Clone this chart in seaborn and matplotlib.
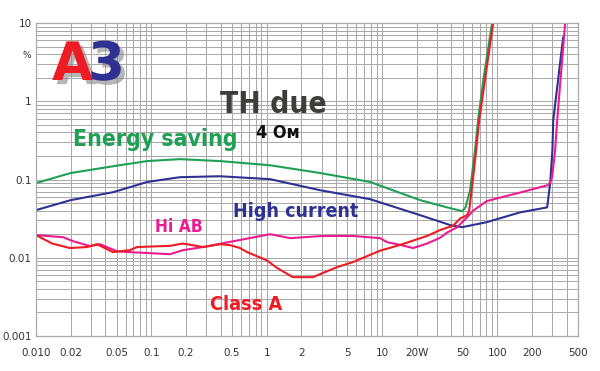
import numpy as np
import pandas as pd
import matplotlib
matplotlib.use("Agg")
import matplotlib.pyplot as plt
import matplotlib.ticker as mticker
import matplotlib.patheffects as pe
import seaborn as sns

# ---- data ----
energy_x = [0.01, 0.02, 0.047, 0.092, 0.177, 0.394, 1.07, 2.9, 7.9, 13, 21.4, 36.7, 49.5, 53, 58, 62, 64, 68, 76, 90]
energy_y = [0.090, 0.121, 0.148, 0.172, 0.182, 0.172, 0.152, 0.121, 0.093, 0.071, 0.0545, 0.044, 0.0394, 0.044, 0.073, 0.163, 0.238, 0.57, 2.0, 10]

high_x = [0.01, 0.02, 0.047, 0.092, 0.177, 0.394, 1.07, 2.9, 7.9, 21.4, 39.5, 49.5, 81, 157, 270, 287, 300, 305, 372]
high_y = [0.0406, 0.0545, 0.069, 0.093, 0.107, 0.110, 0.101, 0.073, 0.056, 0.035, 0.026, 0.0246, 0.0285, 0.038, 0.044, 0.09, 0.24, 0.57, 6.6]

hiab_x = [0.01, 0.0172, 0.0209, 0.0294, 0.0359, 0.0504, 0.0653, 0.145, 0.188, 0.281, 0.454, 1.07, 1.6, 2.9, 4.08, 5.6, 9.6, 11.1, 14.4, 18.6,
          24.6, 31.9, 36.7, 44.8, 54.7, 61.7, 81, 122, 157, 276, 290, 299, 317, 330, 387]
hiab_y = [0.0195, 0.0183, 0.0163, 0.0141, 0.0149, 0.0121, 0.0118, 0.0111, 0.0125, 0.0137, 0.0157, 0.020, 0.0178, 0.0189, 0.019, 0.019, 0.0178, 0.0158, 0.0146, 0.0133,
          0.0152, 0.018, 0.021, 0.0245, 0.033, 0.040, 0.053, 0.062, 0.068, 0.085, 0.095, 0.11, 0.24, 0.57, 10]

classa_x = [0.01, 0.0138, 0.0197, 0.0277, 0.0338, 0.0465, 0.0653, 0.0751, 0.145, 0.188, 0.281, 0.394, 0.482, 0.588, 0.676, 1.0, 1.23, 1.69, 2.52,
            4.08, 5.6, 9.6, 14.4, 24.6, 31.9, 41.4, 47.6, 54.7, 57, 61.7, 65.5, 69.5, 92]
classa_y = [0.0195, 0.0152, 0.0133, 0.0137, 0.0149, 0.0118, 0.0125, 0.0137, 0.0142, 0.0152, 0.0137, 0.0149, 0.0145, 0.0133, 0.0118, 0.0093, 0.0074, 0.00565, 0.00565,
            0.0076, 0.0088, 0.0123, 0.0146, 0.019, 0.0226, 0.0257, 0.0318, 0.035, 0.0406, 0.107, 0.238, 0.57, 10]

x_ticks = [0.01, 0.02, 0.05, 0.1, 0.2, 0.5, 1, 2, 5, 10, 20, 50, 100, 200, 500]
x_labels = ["0.010", "0.02", "0.05", "0.1", "0.2", "0.5", "1", "2", "5", "10", "20W", "50", "100", "200", "500"]
y_ticks = [0.001, 0.01, 0.1, 1, 10]
y_labels = ["0.001", "0.01", "0.1", "1", "10"]

series_names = ["Energy saving", "High current", "Hi AB", "Class A"]
colors = {"Energy saving": "#1fa055", "High current": "#2e3192", "Hi AB": "#ec1b8f", "Class A": "#ed1c24"}

frames = []
for name, xs, ys in [("Energy saving", energy_x, energy_y), ("High current", high_x, high_y),
                     ("Hi AB", hiab_x, hiab_y), ("Class A", classa_x, classa_y)]:
    frames.append(pd.DataFrame({"x": xs, "y": ys, "series": name}))
df = pd.concat(frames, ignore_index=True)

sns.set_style("white")
plt.rcParams["font.family"] = ["DejaVu Sans"]

W, H = 600, 371
fig = plt.figure(figsize=(6.0, 3.71), dpi=100)
ax = fig.add_axes([36 / W, 1 - 336 / H, (578 - 36) / W, (336 - 23) / H])
ax.set_xscale("log")
ax.set_yscale("log")
ax.set_xlim(0.01, 500)
ax.set_ylim(0.001, 10)

gridc = "#aaaaaa"
ax.xaxis.set_minor_locator(mticker.LogLocator(base=10, subs=np.arange(2, 10), numticks=20))
ax.yaxis.set_minor_locator(mticker.LogLocator(base=10, subs=np.arange(2, 10), numticks=20))
ax.xaxis.set_minor_formatter(mticker.NullFormatter())
ax.yaxis.set_minor_formatter(mticker.NullFormatter())
ax.set_xticks(x_ticks)
ax.set_xticklabels(x_labels)
ax.set_yticks(y_ticks)
ax.set_yticklabels(y_labels)
ax.grid(True, which="both", color=gridc, lw=0.75)
ax.set_axisbelow(True)
for s in ax.spines.values():
    s.set_color(gridc)
    s.set_linewidth(0.9)
ax.tick_params(which="both", length=0)
ax.tick_params(axis="x", pad=9, labelsize=7.5, colors="#333333")
ax.tick_params(axis="y", pad=3, labelsize=7.5, colors="#333333")

sns.lineplot(data=df, x="x", y="y", hue="series", palette=colors, hue_order=series_names,
             units="series", estimator=None, sort=False, legend=False, lw=1.5, ax=ax)
ax.set_xlabel("")
ax.set_ylabel("")
ax.set_xlim(0.01, 500)
ax.set_ylim(0.001, 10)

renderer = fig.canvas.get_renderer()

def ftext(xp, yp, s, width=None, **kw):
    t = fig.text(xp / W, 1 - yp / H, s, **kw)
    if width is not None:
        w = t.get_window_extent(renderer=renderer).width
        if w > 0:
            t.set_fontsize(t.get_fontsize() * width / w)
    return t

cond = dict(family=["DejaVu Sans"], fontstretch="condensed", fontweight="bold")
ftext(27, 56, "%", fontsize=6.5, color="#333333", ha="center", va="center")

shadow = [pe.SimplePatchShadow(offset=(3, -3), shadow_rgbFace="#888888", alpha=0.6), pe.Normal()]
ftext(93, 80, "A", fontsize=42, fontweight="bold", color="#ed1c24", ha="right", va="baseline",
      path_effects=shadow, width=41)
ftext(88, 80, "3", fontsize=42, fontweight="bold", color="#2e3192", ha="left", va="baseline",
      path_effects=shadow, width=37)

ftext(220, 113, "TH due", fontsize=28, color="#3d3d3b", ha="left", va="baseline", width=107, **cond)
ftext(256, 138, "4 Ом", fontsize=16, color="#111111", ha="left", va="baseline", width=44, **cond)
ftext(73, 146, "Energy saving", fontsize=18, color="#1fa055", ha="left", va="baseline", width=164, **cond)
ftext(233, 217, "High current", fontsize=18, color="#2e3192", ha="left", va="baseline", width=125, **cond)
ftext(155, 232, "Hi AB", fontsize=16, color="#ec1b8f", ha="left", va="baseline", width=48, **cond)
ftext(210, 310, "Class A", fontsize=18, color="#ed1c24", ha="left", va="baseline", width=72, **cond)

fig.savefig("out.png", dpi=100, facecolor="white")
